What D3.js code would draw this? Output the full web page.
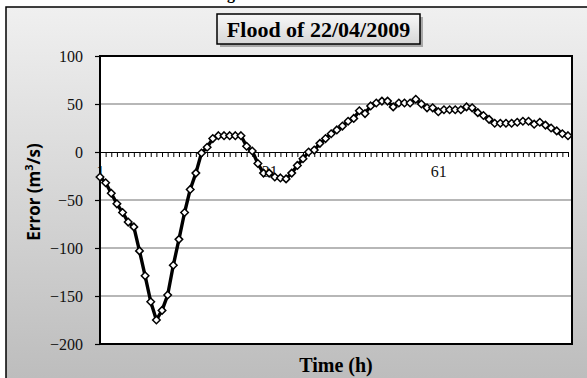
<!DOCTYPE html>
<meta charset="utf-8">
<style>
  body { margin: 0; background: white; }
  svg { display: block; }
</style>
<body>
<script src="https://cdn.jsdelivr.net/npm/d3@7"></script>
<script>
  // errors, one per hour (1..84)
  var hours = d3.range(1, 85);
  var errors = [
    -26, -32, -43, -54, -63, -73, -78, -103, -129, -156,
    -175, -165, -149, -118, -91, -63, -39, -22, -1, 5,
    14, 17, 17, 17, 17, 17, 6, 1, -12, -22,
    -22, -26, -27, -28, -22, -14, -7, 0, 2, 9,
    14, 19, 23, 27, 32, 35, 43, 40, 48, 51,
    53, 53, 47, 51, 51, 51, 55, 50, 46, 46,
    42, 44, 44, 44, 44, 47, 46, 41, 38, 34,
    30, 30, 30, 30, 31, 32, 32, 29, 31, 28,
    25, 22, 19, 17
  ];
  var yTicks = [100, 50, 0, -50, -100, -150, -200];
  var xLabels = [1, 31, 61];
  var title = "Flood of 22/04/2009";

  var W = 587, H = 378;
  var plot = { left: 100, top: 56, right: 572, bottom: 344 };

  var svg = d3.select("body").append("svg")
    .attr("width", W)
    .attr("height", H);

  var defs = svg.append("defs");
  var bg = defs.append("linearGradient").attr("id", "bg")
    .attr("x1", 0).attr("y1", 0).attr("x2", 0).attr("y2", 1);
  bg.append("stop").attr("offset", "0%").attr("stop-color", "#f0f0f0");
  bg.append("stop").attr("offset", "100%").attr("stop-color", "#bcbcbc");
  var tb = defs.append("linearGradient").attr("id", "tb")
    .attr("x1", 0).attr("y1", 0).attr("x2", 0).attr("y2", 1);
  tb.append("stop").attr("offset", "0%").attr("stop-color", "#f8f8f8");
  tb.append("stop").attr("offset", "100%").attr("stop-color", "#d6d6d6");

  // tail of the caption above the chart, cut by the crop
  svg.append("text")
    .attr("x", 231).attr("y", -1)
    .attr("text-anchor", "middle")
    .style("font", "bold 16px 'Liberation Serif'")
    .text("g");

  // chart frame
  svg.append("rect")
    .attr("x", 6).attr("y", 7)
    .attr("width", W).attr("height", H)
    .attr("fill", "url(#bg)")
    .attr("stroke", "#000").attr("stroke-width", 1.5);

  var x = d3.scaleLinear().domain([1, 84]).range([plot.left, 568]);
  var y = d3.scaleLinear().domain([-200, 100]).range([plot.bottom, plot.top]);

  svg.append("rect")
    .attr("x", plot.left).attr("y", plot.top)
    .attr("width", plot.right - plot.left)
    .attr("height", plot.bottom - plot.top)
    .attr("fill", "white");

  // gridlines
  svg.append("g").selectAll("line")
    .data(yTicks.filter(d => d != 100 && d != -200 && d != 0))
    .enter().append("line")
    .attr("x1", plot.left).attr("x2", plot.right)
    .attr("y1", d => y(d)).attr("y2", d => y(d))
    .attr("stroke", "#707070").attr("stroke-width", 1.2);

  // y axis
  var yAxis = svg.append("g")
    .attr("transform", "translate(" + plot.left + ",0)")
    .call(d3.axisLeft(y).tickValues(yTicks).tickSize(5).tickPadding(12));
  yAxis.select(".domain").remove();
  yAxis.selectAll(".tick line").attr("stroke", "#000").attr("stroke-width", 1.2);
  yAxis.selectAll(".tick text")
    .attr("fill", "#111")
    .style("font", "16px 'Liberation Serif'");

  // x axis on the zero line, a tick per hour
  var xAxis = svg.append("g")
    .attr("transform", "translate(0," + y(0) + ")")
    .call(d3.axisBottom(x).tickValues(hours).tickSize(5).tickSizeOuter(0)
      .tickFormat(d => xLabels.includes(d) ? d : ""));
  xAxis.select(".domain").attr("stroke", "#000").attr("stroke-width", 1.2);
  xAxis.selectAll(".tick line").attr("stroke", "#000");
  xAxis.selectAll(".tick text")
    .attr("y", 14).attr("fill", "#111")
    .style("font", "16px 'Liberation Serif'");

  // plot border
  svg.append("rect")
    .attr("x", plot.left).attr("y", plot.top)
    .attr("width", plot.right - plot.left)
    .attr("height", plot.bottom - plot.top)
    .attr("fill", "none")
    .attr("stroke", "#000").attr("stroke-width", 2);

  var line = d3.line()
    .x((d, i) => x(hours[i]))
    .y(d => y(d));

  svg.append("path")
    .datum(errors)
    .attr("d", line)
    .attr("fill", "none")
    .attr("stroke", "#000")
    .attr("stroke-width", 3.4)
    .attr("stroke-linejoin", "round");

  var diamond = d3.symbol().type(d3.symbolDiamond2).size(36);
  svg.append("g").selectAll("path")
    .data(errors)
    .enter().append("path")
    .attr("d", diamond)
    .attr("transform", (d, i) => "translate(" + x(hours[i]) + "," + y(d) + ")")
    .attr("fill", "white")
    .attr("stroke", "#000")
    .attr("stroke-width", 1.5);

  // title box
  var box = { x: 217, y: 14, w: 203, h: 30 };
  svg.append("rect")
    .attr("x", box.x + 3).attr("y", box.y + 3)
    .attr("width", box.w).attr("height", box.h)
    .attr("fill", "#555").attr("opacity", 0.45);
  svg.append("rect")
    .attr("x", box.x).attr("y", box.y)
    .attr("width", box.w).attr("height", box.h)
    .attr("fill", "url(#tb)")
    .attr("stroke", "#000").attr("stroke-width", 1.5);
  svg.append("text")
    .attr("x", box.x + box.w / 2).attr("y", box.y + 23)
    .attr("text-anchor", "middle")
    .style("font", "bold 22px 'Liberation Serif'")
    .text(title);

  // axis titles
  svg.append("text")
    .attr("x", 336).attr("y", 372)
    .attr("text-anchor", "middle")
    .style("font", "bold 20px 'Liberation Serif'")
    .text("Time (h)");

  var yt = svg.append("text")
    .attr("transform", "translate(40,192) rotate(-90)")
    .attr("text-anchor", "middle")
    .style("font", "bold 17px 'Open Sans'");
  yt.append("tspan").text("Error (m");
  yt.append("tspan").attr("dy", -7).style("font-size", "11px").text("3");
  yt.append("tspan").attr("dy", 7).text("/s)");
</script>
</body>
